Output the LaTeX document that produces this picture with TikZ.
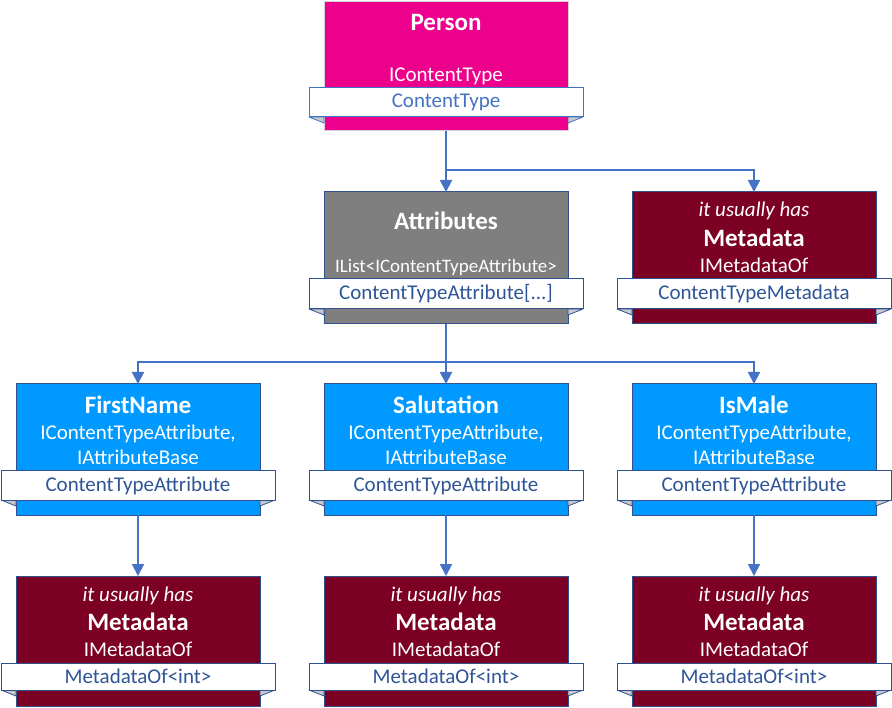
\documentclass[tikz,border=0pt]{standalone}
\usepackage{fontspec}
\setmainfont{Carlito}
\usetikzlibrary{arrows.meta,calc}
\definecolor{magentaC}{RGB}{236,0,140}
\definecolor{grayC}{RGB}{127,127,127}
\definecolor{wineC}{RGB}{124,0,36}
\definecolor{skyC}{RGB}{0,153,255}
\definecolor{edgeC}{RGB}{47,82,143}
\definecolor{lineC}{RGB}{68,114,196}
\definecolor{navyC}{RGB}{47,85,151}
\definecolor{foldC}{RGB}{200,200,205}
\definecolor{pinkEdge}{RGB}{215,205,215}
\tikzset{
 card/.style={rectangle, minimum width=244pt, inner sep=0pt, outer sep=0pt, draw=edgeC, line width=1pt},
 banner/.style={rectangle, minimum width=274pt, inner sep=0pt, outer sep=0pt, fill=white, draw=edgeC, line width=1pt},
 fold/.style={fill=foldC, draw=edgeC, line width=0.8pt, line join=round},
 conn/.style={draw=lineC, line width=2pt},
 arr/.style={conn, -{Triangle[width=12pt,length=12pt]}},
 title/.style={anchor=base, text=white, font=\fontsize{25}{29}\selectfont\bfseries},
 body/.style={anchor=base, text=white, font=\fontsize{21}{25}\selectfont},
 small/.style={anchor=base, text=white, font=\fontsize{19}{23}\selectfont},
 note/.style={anchor=base, text=white, font=\fontsize{21}{25}\selectfont\itshape},
 bantext/.style={anchor=base, text=navyC, font=\fontsize{21}{25}\selectfont},
}
% #1 name, #2 cx, #3 top, #4 bottom, #5 banner top, #6 banner bottom, #7 fill, #8 card edge, #9 banner edge
\newcommand\mkcard[9]{%
 \node[card, fill=#7, draw=#8, minimum height={#4-#3}] (#1) at (#2,{(#3+#4)/2}) {};
 \node[banner, draw=#9, minimum height={#6-#5}] (#1b) at (#2,{(#5+#6)/2}) {};
 \path[fold, draw=#9] (#1b.south west) -- (#1.west |- #1b.south) -- ($(#1.west |- #1b.south)+(0,6)$) -- cycle;
 \path[fold, draw=#9] (#1b.south east) -- (#1.east |- #1b.south) -- ($(#1.east |- #1b.south)+(0,6)$) -- cycle;
 \node[banner, draw=#9, minimum height={#6-#5}] at (#2,{(#5+#6)/2}) {};
}
\begin{document}
\begin{tikzpicture}[x=1pt,y=-1pt]
\useasboundingbox (0,0) rectangle (892,708);
% cards
\mkcard{person}{446}{2}{131}{88}{117}{magentaC}{pinkEdge}{lineC}
\mkcard{attr}{446}{192}{324}{279}{309}{grayC}{edgeC}{edgeC}
\mkcard{meta}{754}{192}{324}{279}{309}{wineC}{edgeC}{edgeC}
\mkcard{first}{138}{384}{515}{471}{500}{skyC}{edgeC}{edgeC}
\mkcard{salut}{446}{384}{515}{471}{500}{skyC}{edgeC}{edgeC}
\mkcard{male}{754}{384}{515}{471}{500}{skyC}{edgeC}{edgeC}
\mkcard{mfirst}{138}{576}{706}{663}{690}{wineC}{edgeC}{edgeC}
\mkcard{msalut}{446}{576}{706}{663}{690}{wineC}{edgeC}{edgeC}
\mkcard{mmale}{754}{576}{706}{663}{690}{wineC}{edgeC}{edgeC}
% texts: Person
\node[title] (tperson) at (446,31) {Person};
\node[body] (iperson) at (446,82) {IContentType};
\node[bantext, text=lineC] (bperson) at (446,108) {ContentType};
% Attributes
\node[title] (tattr) at (446,230) {Attributes};
\node[small] (iattr) at (446,273) {IList<IContentTypeAttribute>};
\node[bantext] (battr) at (446,300) {ContentTypeAttribute[...]};
% Metadata top
\node[note] (nmeta) at (754,217) {it usually has};
\node[title] (tmeta) at (754,247) {Metadata};
\node[body] (imeta) at (754,273) {IMetadataOf};
\node[bantext] (bmeta) at (754,300) {ContentTypeMetadata};
% attribute cards
\foreach \nm/\cx/\tt in {first/138/FirstName, salut/446/Salutation, male/754/IsMale}{
 \node[title] (t\nm) at (\cx,414) {\tt};
 \node[body] (i\nm) at (\cx,440) {IContentTypeAttribute,};
 \node[body] (j\nm) at (\cx,465) {IAttributeBase};
 \node[bantext] (b\nm) at (\cx,492) {ContentTypeAttribute};
}
% bottom metadata cards
\foreach \nm/\cx in {mfirst/138, msalut/446, mmale/754}{
 \node[note] (n\nm) at (\cx,601) {it usually has};
 \node[title] (t\nm) at (\cx,630) {Metadata};
 \node[body] (i\nm) at (\cx,656) {IMetadataOf};
 \node[bantext] (b\nm) at (\cx,683) {MetadataOf<int>};
}
% connectors
\coordinate (j1) at (446,170);
\coordinate (j2) at (446,362);
\draw[arr] (person.south) -- (attr.north);
\draw[arr] (j1) -| (meta.north);
\draw[conn] (attr.south) -- (j2);
\draw[arr] (j2) -- (salut.north);
\draw[arr] (j2) -| (first.north);
\draw[arr] (j2) -| (male.north);
\draw[arr] (first.south) -- (mfirst.north);
\draw[arr] (salut.south) -- (msalut.north);
\draw[arr] (male.south) -- (mmale.north);
\end{tikzpicture}
\end{document}
